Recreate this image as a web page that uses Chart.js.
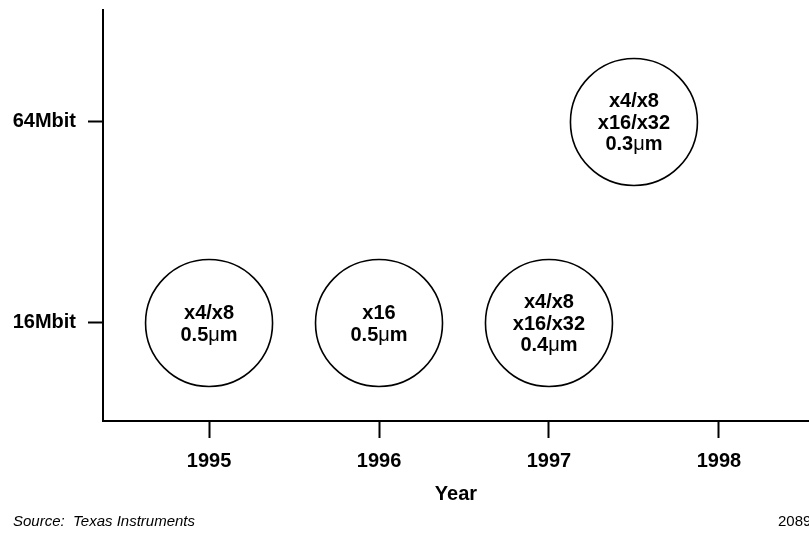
<!DOCTYPE html>
<html>
<head>
<meta charset="utf-8">
<script src="https://cdn.jsdelivr.net/npm/chart.js@4/dist/chart.umd.min.js"></script>
<style>
  html, body { margin: 0; padding: 0; background: #fff; }
  #wrap { position: relative; width: 809px; height: 535px; }
</style>
</head>
<body>
<div id="wrap"><canvas id="c" width="809" height="535"></canvas></div>
<script>
// ---- data ----
const yearTicks = [1995, 1996, 1997, 1998];
const bubbleYears = [1995, 1996, 1997, 1997.5];
const bubbleDensity = [0, 0, 0, 1];
const densityLabels = ['16Mbit', '64Mbit'];
const bubbleText = [
  ['x4/x8', '0.5\u03bcm'],
  ['x16', '0.5\u03bcm'],
  ['x4/x8', 'x16/x32', '0.4\u03bcm'],
  ['x4/x8', 'x16/x32', '0.3\u03bcm']
];
const xTitle = 'Year';
const sourceNote = 'Source:  Texas Instruments';
const figureNo = '2089';

const FONT = '"Liberation Sans", Arial, Helvetica, sans-serif';

// keep bubbles from reserving extra layout padding
if (Chart.BubbleController) {
  Chart.BubbleController.prototype.getMaxOverflow = function () { return 0; };
}

const BOLD = 'bold 20px ' + FONT;
const MU = '20px ' + FONT;

function drawMixed(ctx, text, cx, cy) {
  // draw with the Greek mu in regular weight, rest bold
  const parts = [];
  let cur = '';
  for (const ch of text) {
    if (ch === '\u03bc') { if (cur) parts.push([cur, BOLD]); parts.push([ch, MU]); cur = ''; }
    else cur += ch;
  }
  if (cur) parts.push([cur, BOLD]);
  let total = 0;
  parts.forEach(p => { ctx.font = p[1]; p.push(ctx.measureText(p[0]).width); total += p[2]; });
  let x = cx - total / 2;
  ctx.textAlign = 'left';
  parts.forEach(p => { ctx.font = p[1]; ctx.fillText(p[0], x, cy); x += p[2]; });
}

const bubbleLabels = {
  id: 'bubbleLabels',
  afterDatasetsDraw(chart) {
    const ctx = chart.ctx;
    const meta = chart.getDatasetMeta(0);
    ctx.save();
    ctx.fillStyle = '#000';
    ctx.textBaseline = 'middle';
    const lh = 21.5;
    meta.data.forEach((el, i) => {
      const lines = bubbleText[i];
      const y0 = el.y + 1.5 - (lines.length - 1) * lh / 2;
      lines.forEach((t, k) => drawMixed(ctx, t, el.x, y0 + k * lh));
    });
    ctx.restore();
  }
};

const footer = {
  id: 'footer',
  afterDraw(chart) {
    const ctx = chart.ctx;
    ctx.save();
    ctx.fillStyle = '#000';
    ctx.textBaseline = 'middle';
    ctx.textAlign = 'left';
    ctx.font = 'italic 15px ' + FONT;
    ctx.fillText(sourceNote, 13, 522);
    ctx.font = '15px ' + FONT;
    ctx.fillText(figureNo, 778, 522);
    ctx.restore();
  }
};

new Chart(document.getElementById('c'), {
  type: 'bubble',
  data: {
    datasets: [{
      data: bubbleYears.map((x, i) => ({ x: x, y: bubbleDensity[i] })),
      radius: 63.5,
      backgroundColor: '#fff',
      borderColor: '#000',
      borderWidth: 1.6,
      clip: false
    }]
  },
  options: {
    responsive: false,
    animation: false,
    events: [],
    layout: { padding: { top: 10, right: 0, left: 0, bottom: 0 } },
    plugins: { legend: { display: false }, tooltip: { enabled: false } },
    scales: {
      x: {
        type: 'linear',
        min: 1994.376,
        max: 1998.53,
        afterBuildTicks(scale) { scale.ticks = yearTicks.map(v => ({ value: v })); },
        afterFit(scale) { scale.height = 114; scale.paddingLeft = 0; scale.paddingRight = 0; },
        ticks: {
          color: '#000',
          font: { family: FONT, size: 20, weight: 'bold' },
          padding: 11,
          maxRotation: 0,
          callback: v => String(v)
        },
        grid: { drawOnChartArea: false, drawTicks: true, tickLength: 17, tickColor: '#000', tickWidth: 2 },
        border: { display: true, color: '#000', width: 2 },
        title: {
          display: true,
          text: xTitle,
          color: '#000',
          font: { family: FONT, size: 20, weight: 'bold' },
          padding: { top: 0, bottom: 29 }
        }
      },
      y: {
        type: 'linear',
        min: -0.4876,
        max: 1.557,
        afterBuildTicks(scale) { scale.ticks = densityLabels.map((_, i) => ({ value: i })); },
        afterFit(scale) { scale.width = 103; scale.paddingTop = 0; scale.paddingBottom = 0; },
        ticks: {
          color: '#000',
          font: { family: FONT, size: 20, weight: 'bold' },
          padding: 12,
          callback: v => densityLabels[v]
        },
        grid: { drawOnChartArea: false, drawTicks: true, tickLength: 15, tickColor: '#000', tickWidth: 2 },
        border: { display: true, color: '#000', width: 2 }
      }
    }
  },
  plugins: [bubbleLabels, footer]
});
</script>
</body>
</html>
